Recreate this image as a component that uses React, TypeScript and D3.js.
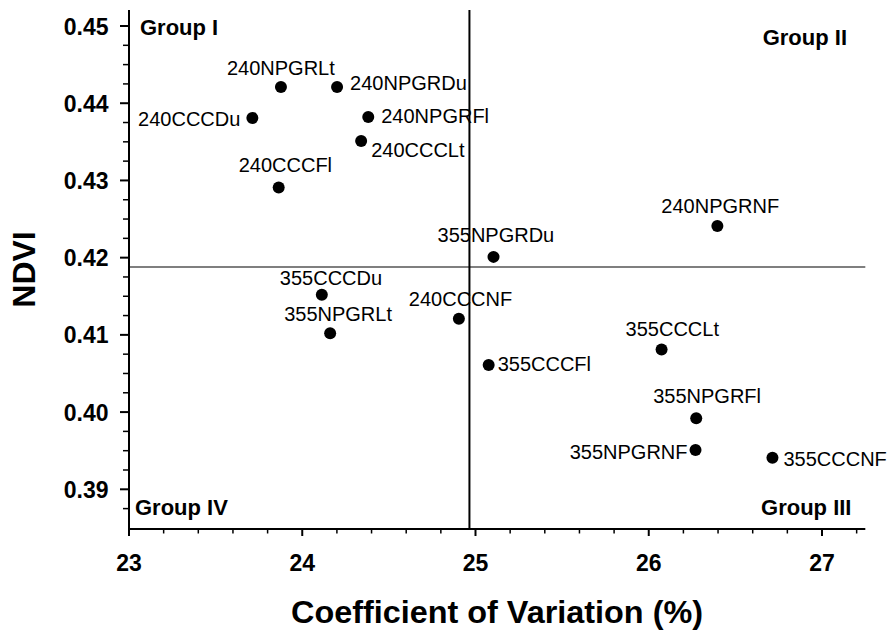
import React from "react";
import * as d3 from "d3";

// ---- data ----
const names = [
  "240NPGRLt", "240NPGRDu", "240CCCDu", "240NPGRFl", "240CCCLt", "240CCCFl",
  "240NPGRNF", "355NPGRDu", "355CCCDu", "355NPGRLt", "240CCCNF", "355CCCFl",
  "355CCCLt", "355NPGRFl", "355NPGRNF", "355CCCNF",
];
const cvValues = [
  23.877, 24.201, 23.712, 24.381, 24.34, 23.864,
  26.396, 25.104, 24.113, 24.161, 24.904, 25.076,
  26.074, 26.274, 26.27, 26.714,
];
const ndviValues = [
  0.4421, 0.4421, 0.4381, 0.4382, 0.4351, 0.4291,
  0.4241, 0.4201, 0.4152, 0.4102, 0.4121, 0.4061,
  0.4081, 0.3992, 0.3951, 0.3941,
];
const xTickValues = [23, 24, 25, 26, 27];
const yTickValues = [0.39, 0.4, 0.41, 0.42, 0.43, 0.44, 0.45];
const cvCut = 24.965;
const ndviCut = 0.4188;
const groupNames = ["Group I", "Group II", "Group III", "Group IV"];

// ---- layout (label offsets from the dot, px) ----
const labelLayout: { anchor: string; dx: number; dy: number }[] = [
  { anchor: "start", dx: -54, dy: -12 },
  { anchor: "start", dx: 13, dy: 3 },
  { anchor: "end", dx: -12, dy: 8 },
  { anchor: "start", dx: 13, dy: 6 },
  { anchor: "start", dx: 10, dy: 16 },
  { anchor: "start", dx: -40, dy: -15 },
  { anchor: "start", dx: -56, dy: -13 },
  { anchor: "start", dx: -56, dy: -15 },
  { anchor: "start", dx: -42, dy: -10 },
  { anchor: "start", dx: -46, dy: -12 },
  { anchor: "start", dx: -50, dy: -13 },
  { anchor: "start", dx: 9, dy: 6 },
  { anchor: "start", dx: -36, dy: -14 },
  { anchor: "start", dx: -43, dy: -15 },
  { anchor: "end", dx: -8, dy: 9 },
  { anchor: "start", dx: 11, dy: 8 },
];

const W = 889;
const H = 632;
const FONT = "'Liberation Sans', Arial, Helvetica, sans-serif";

export default function App() {
  const x = d3.scaleLinear().domain([23, 27]).range([129, 822]);
  const y = d3.scaleLinear().domain([0.39, 0.45]).range([489.3, 26]);
  const xMin = 23;
  const xMax = 27.25;
  const yMin = 0.38486;
  const yMax = 0.45207;
  const left = x(xMin);
  const right = x(xMax);
  const bottom = y(yMin);
  const top = y(yMax);

  const xMinor = d3.range(23, 27.21, 0.2).filter(
    (v) => !xTickValues.some((t) => Math.abs(t - v) < 1e-6)
  );
  const yMinor = d3.range(0.3875, 0.452, 0.0025).filter(
    (v) => !yTickValues.some((t) => Math.abs(t - v) < 1e-6)
  );

  const points = names.map((n, i) => ({
    name: n,
    cx: x(cvValues[i]),
    cy: y(ndviValues[i]),
    lay: labelLayout[i],
  }));

  return (
    <svg
      width={W}
      height={H}
      style={{ position: "absolute", left: 0, top: 0, display: "block", background: "#fff" }}
      fontFamily={FONT}
    >
      {/* quadrant lines */}
      <line x1={left} x2={right} y1={y(ndviCut)} y2={y(ndviCut)} stroke="#555" strokeWidth={1.5} />
      <line x1={x(cvCut)} x2={x(cvCut)} y1={top} y2={bottom} stroke="#000" strokeWidth={2} />

      {/* axes */}
      <line x1={left} x2={left} y1={top} y2={bottom} stroke="#000" strokeWidth={2} />
      <line x1={left} x2={right} y1={bottom} y2={bottom} stroke="#000" strokeWidth={2} />

      {yTickValues.map((t) => (
        <g key={"yt" + t}>
          <line x1={left - 9} x2={left} y1={y(t)} y2={y(t)} stroke="#000" strokeWidth={2} />
          <text
            x={left - 20.5}
            y={y(t)}
            dy={8.5}
            textAnchor="end"
            fontSize={23}
            fontWeight="bold"
          >
            {d3.format(".2f")(t)}
          </text>
        </g>
      ))}
      {yMinor.map((t) => (
        <line key={"ym" + t} x1={left - 6} x2={left} y1={y(t)} y2={y(t)} stroke="#000" strokeWidth={1.5} />
      ))}
      {xTickValues.map((t) => (
        <g key={"xt" + t}>
          <line x1={x(t)} x2={x(t)} y1={bottom} y2={bottom + 7} stroke="#000" strokeWidth={2} />
          <text x={x(t)} y={570.5} textAnchor="middle" fontSize={23} fontWeight="bold">
            {t}
          </text>
        </g>
      ))}
      {xMinor.map((t) => (
        <line key={"xm" + t} x1={x(t)} x2={x(t)} y1={bottom} y2={bottom + 4.5} stroke="#000" strokeWidth={1.5} />
      ))}

      {/* axis titles */}
      <text
        x={497}
        y={623}
        textAnchor="middle"
        fontSize={32}
        fontWeight="bold"
        textLength={412}
        lengthAdjust="spacingAndGlyphs"
      >
        Coefficient of Variation (%)
      </text>
      <text
        transform={`translate(35,269.5) rotate(-90)`}
        textAnchor="middle"
        fontSize={32}
        fontWeight="bold"
      >
        NDVI
      </text>

      {/* group labels */}
      <text x={140} y={34.5} fontSize={22} fontWeight="bold">{groupNames[0]}</text>
      <text x={847} y={45} textAnchor="end" fontSize={22} fontWeight="bold">{groupNames[1]}</text>
      <text x={851.5} y={514.5} textAnchor="end" fontSize={22} fontWeight="bold">{groupNames[2]}</text>
      <text x={135} y={515} fontSize={22} fontWeight="bold">{groupNames[3]}</text>

      {/* points */}
      {points.map((p) => (
        <g key={p.name}>
          <circle cx={p.cx} cy={p.cy} r={6} fill="#000" />
          <text
            x={p.cx + p.lay.dx}
            y={p.cy + p.lay.dy}
            textAnchor={p.lay.anchor}
            fontSize={20}
            fill="#000"
          >
            {p.name}
          </text>
        </g>
      ))}
    </svg>
  );
}
